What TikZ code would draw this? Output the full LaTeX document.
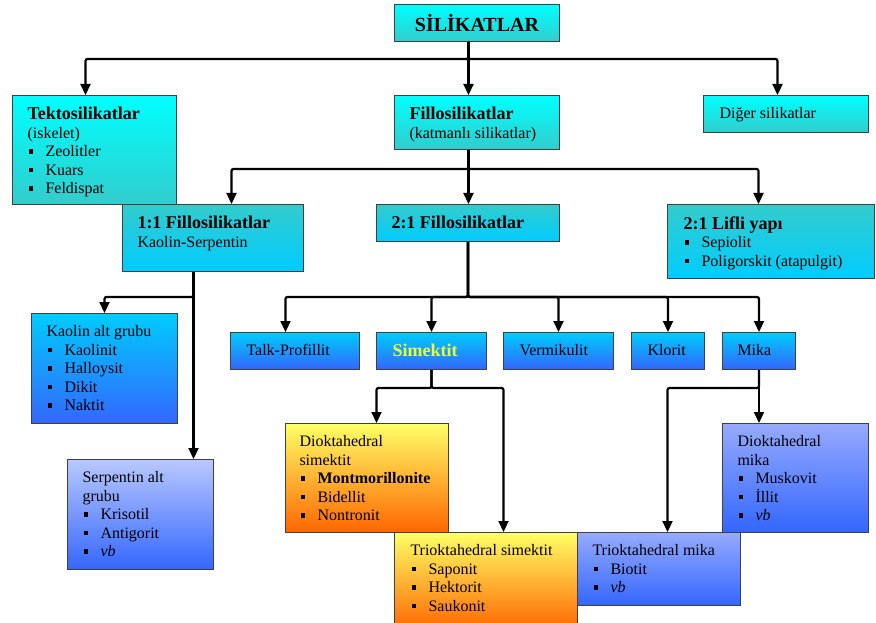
\documentclass[tikz,border=0pt]{standalone}
\usepackage{fontspec}
\setmainfont{Liberation Serif}
\usepackage{xcolor}
\usepackage{tikz}
\usetikzlibrary{arrows.meta}

\definecolor{camgobegi}{RGB}{0,255,255}
\definecolor{turkuaz}{RGB}{51,204,204}
\definecolor{gokmavi}{RGB}{0,204,255}
\definecolor{mavi}{RGB}{51,102,255}
\definecolor{lila}{RGB}{185,200,255}
\definecolor{acikmavi}{RGB}{150,170,255}
\definecolor{sari}{RGB}{255,255,102}
\definecolor{turuncu}{RGB}{255,102,0}
\definecolor{limon}{RGB}{235,255,50}

\newcommand{\madde}{\makebox[18pt][l]{\hspace{1pt}\raisebox{3pt}{\rule{4.5pt}{4.5pt}}}}
\newcommand{\baslik}[1]{{\bfseries\fontsize{18}{18.5}\selectfont #1}}
\newcommand{\icerik}[3]{\parbox[t][#2][t]{#1}{\raggedright #3}}

\tikzset{
  kutu/.style={draw=black!75,line width=1pt,anchor=north west,inner xsep=15pt,inner ysep=12pt,font=\fontsize{16}{18.5}\selectfont},
  ust/.style={top color=camgobegi,bottom color=turkuaz},
  orta/.style={top color=turkuaz,bottom color=gokmavi},
  alt/.style={top color=gokmavi,bottom color=mavi},
  soluk/.style={top color=lila,bottom color=mavi},
  mor/.style={top color=acikmavi,bottom color=mavi},
  sicak/.style={top color=sari,bottom color=turuncu},
  ok/.style={->,line width=2.2pt,rounded corners=2pt}
}

\begin{document}
\begin{tikzpicture}[x=1pt,y=-1pt,>={Triangle[length=11pt,width=10pt]}]
\useasboundingbox (0,0) rectangle (876,623);
\node[kutu,ust,inner sep=0pt,minimum width=165pt,minimum height=37pt] (sil) at (394,4) {\bfseries\fontsize{20}{24}\selectfont SİLİKATLAR};
\node[kutu,ust] (tekto) at (12,95) {\icerik{134pt}{85pt}{\baslik{Tektosilikatlar}\\(iskelet)\\\madde Zeolitler\\\madde Kuars\\\madde Feldispat}};
\node[kutu,ust] (fillo) at (394,95) {\icerik{135pt}{30pt}{\baslik{Fillosilikatlar}\\(katmanlı silikatlar)}};
\node[kutu,ust,inner xsep=16pt] (diger) at (703,95) {\icerik{133pt}{13pt}{Diğer silikatlar}};
\node[kutu,orta] (bir) at (122,204) {\icerik{151pt}{43pt}{\baslik{1:1 Fillosilikatlar}\\Kaolin-Serpentin}};
\node[kutu,orta] (iki) at (376,204) {\icerik{153pt}{13pt}{\baslik{2:1 Fillosilikatlar}}};
\node[kutu,orta,inner xsep=16pt] (lifli) at (667,204) {\icerik{175pt}{50pt}{\baslik{2:1 Lifli yapı}\\\madde Sepiolit\\\madde Poligorskit (atapulgit)}};
\node[kutu,alt] (kaolin) at (31,313) {\icerik{116pt}{86pt}{Kaolin alt grubu\\\madde Kaolinit\\\madde Halloysit\\\madde Dikit\\\madde Naktit}};
\node[kutu,soluk] (serp) at (67,459) {\icerik{116pt}{86pt}{Serpentin alt\\grubu\\\madde Krisotil\\\madde Antigorit\\\madde \textit{vb}}};
\node[kutu,alt,inner xsep=16pt] (talk) at (230,332) {\icerik{97pt}{13pt}{Talk-Profillit}};
\node[kutu,alt,inner xsep=16pt] (sim) at (376,332) {\icerik{78pt}{13pt}{\textcolor{limon}{\baslik{Simektit}}}};
\node[kutu,alt,inner xsep=16pt] (verm) at (503,332) {\icerik{78pt}{13pt}{Vermikulit}};
\node[kutu,alt,inner xsep=16pt] (klor) at (631,332) {\icerik{41pt}{13pt}{Klorit}};
\node[kutu,alt] (mika) at (722,332) {\icerik{43pt}{13pt}{Mika}};
\node[kutu,sicak,inner xsep=14pt] (dsim) at (285,423) {\icerik{135pt}{85pt}{Dioktahedral\\simektit\\\madde \textbf{Montmorillonite}\\\madde Bidellit\\\madde Nontronit}};
\node[kutu,sicak,inner xsep=16pt] (tsim) at (394,532) {\icerik{151pt}{74pt}{Trioktahedral simektit\\\madde Saponit\\\madde Hektorit\\\madde Saukonit}};
\node[kutu,mor] (dmika) at (722,423) {\icerik{116pt}{85pt}{Dioktahedral\\mika\\\madde Muskovit\\\madde İllit\\\madde \textit{vb}}};
\node[kutu,mor] (tmika) at (577,532) {\icerik{133pt}{49pt}{Trioktahedral mika\\\madde Biotit\\\madde \textit{vb}}};
\draw[ok] ([xshift=-8.5pt]sil.south) -- ([xshift=-8.5pt]fillo.north);
\draw[ok] ([xshift=-8.5pt]sil.south) -- ++(0,17) -| ([xshift=-9pt]tekto.north);
\draw[ok] ([xshift=-8.5pt]sil.south) -- ++(0,17) -| ([xshift=-8.5pt]diger.north);
\draw[ok] ([xshift=-8.5pt]fillo.south) -- ([xshift=-8.5pt]fillo.south |- iki.north);
\draw[ok] ([xshift=-8.5pt]fillo.south) -- ++(0,19) -| ([xshift=18.5pt]bir.north);
\draw[ok] ([xshift=-8.5pt]fillo.south) -- ++(0,19) -| ([xshift=-12.5pt]lifli.north);
\draw[ok] ([xshift=-19.5pt]bir.south) -- ([xshift=-19.5pt]bir.south |- serp.north);
\draw[ok] ([xshift=-19.5pt]bir.south) -- ++(0,25) -| (kaolin.north);
\foreach \k/\s in {talk/-9.5,sim/0,verm/0,klor/0,mika/0}
  \draw[ok] (iki.south) -- ++(0,55) -| ([xshift=\s pt]\k.north);
\draw[ok] (sim.south) -- ++(0,18) -| ([xshift=9.5pt]dsim.north);
\draw[ok] (sim.south) -- ++(0,18) -| ([xshift=17.5pt]tsim.north);
\draw[ok] (mika.south) -- (mika.south |- dmika.north);
\draw[ok] (mika.south) -- ++(0,18) -| ([xshift=8.5pt]tmika.north);
\end{tikzpicture}
\end{document}
